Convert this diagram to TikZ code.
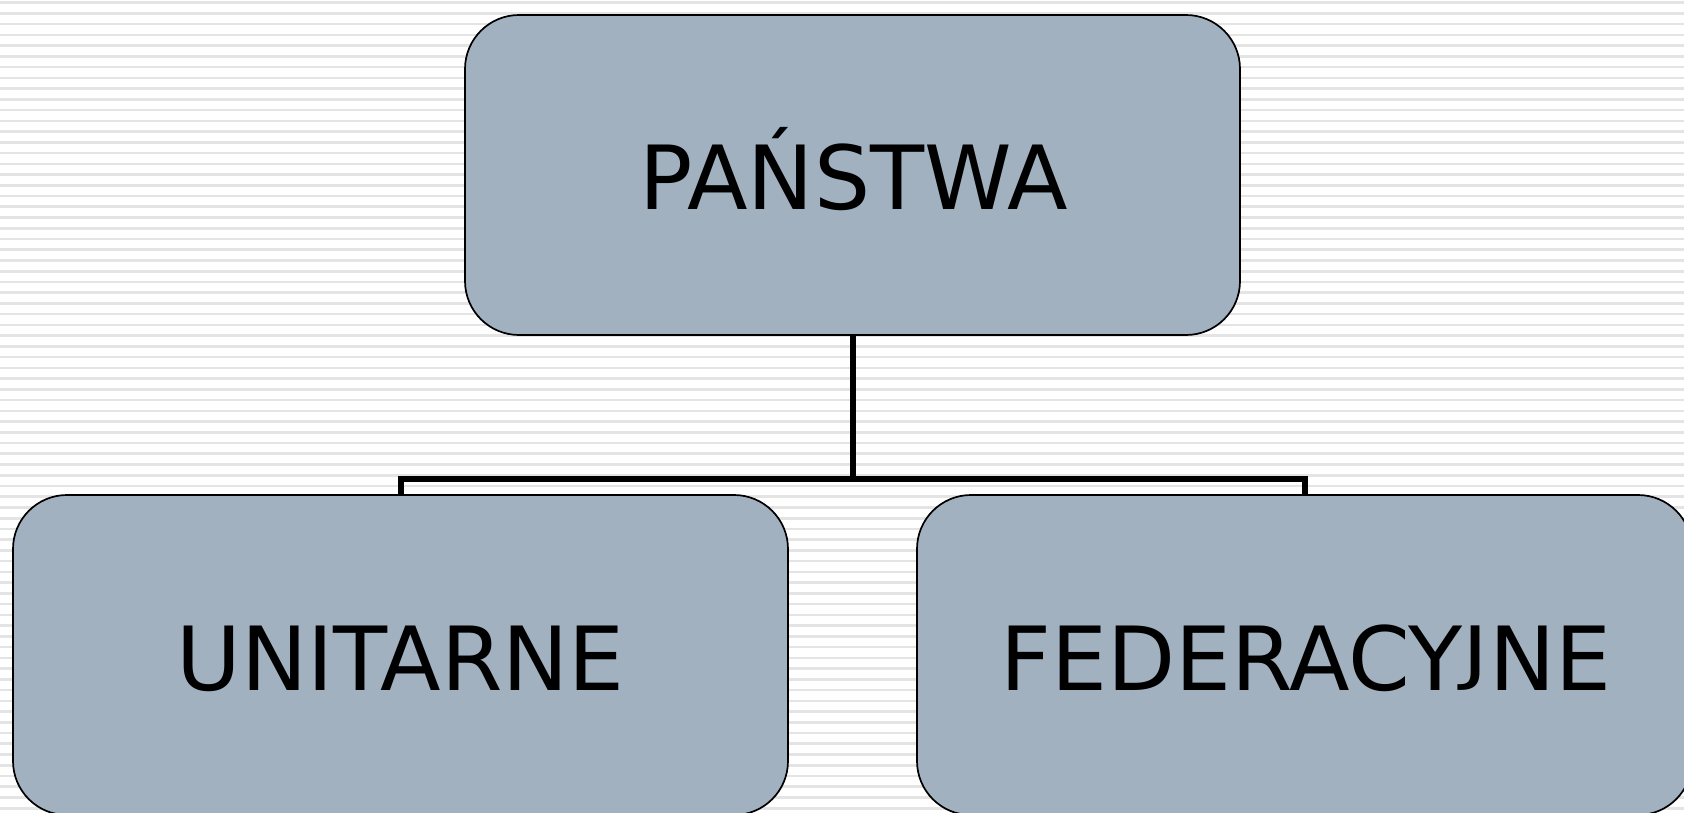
\documentclass[tikz,border=0pt]{standalone}
\usepackage{fontspec}
\usepackage{graphicx}
\setmainfont{DejaVu Sans}
\definecolor{boxfill}{HTML}{A2B1C0}
\definecolor{stripe}{HTML}{E4E4E4}
\newcommand{\flatJ}{\raisebox{0.157em}{\scalebox{1}[0.785]{J}}}
\tikzset{
  box/.style={draw=black, line width=1.7pt, fill=boxfill, rounded corners=54pt,
    minimum width=775pt, minimum height=320pt, inner sep=0pt, anchor=center},
  lbl/.style={font=\fontsize{88.5}{100}\selectfont, anchor=base, inner sep=0pt},
  conn/.style={draw=black, line width=6pt},
  bgline/.style={draw=stripe, line width=2.6pt}
}
\begin{document}
\begin{tikzpicture}[x=1pt,y=-1pt]
\useasboundingbox (0,0) rectangle (1684,812);
\clip (0,0) rectangle (1684,812);
\fill[white] (0,0) rectangle (1684,812);
\foreach \i in {0,...,76} {
  \draw[bgline] (0,{2.7+10.74*\i}) -- (1684,{2.7+10.74*\i});
}
\node[box] (top) at (852.5,175) {};
\node[box] (left) at (400.5,655) {};
\node[box] (right) at (1304.5,655) {};
\node[lbl] (topt) at (853.5,209) {PAŃSTWA};
\node[lbl] (leftt) at (400.5,690) {UNITARNE};
\node[lbl] (rightt) at (1306,690) {FEDERACY\flatJ NE};
\coordinate (junc) at (852.5,479);
\draw[conn] (top.south) -- (junc);
\draw[conn] (junc) -| (left.north);
\draw[conn] (junc) -| (right.north);
\end{tikzpicture}
\end{document}
